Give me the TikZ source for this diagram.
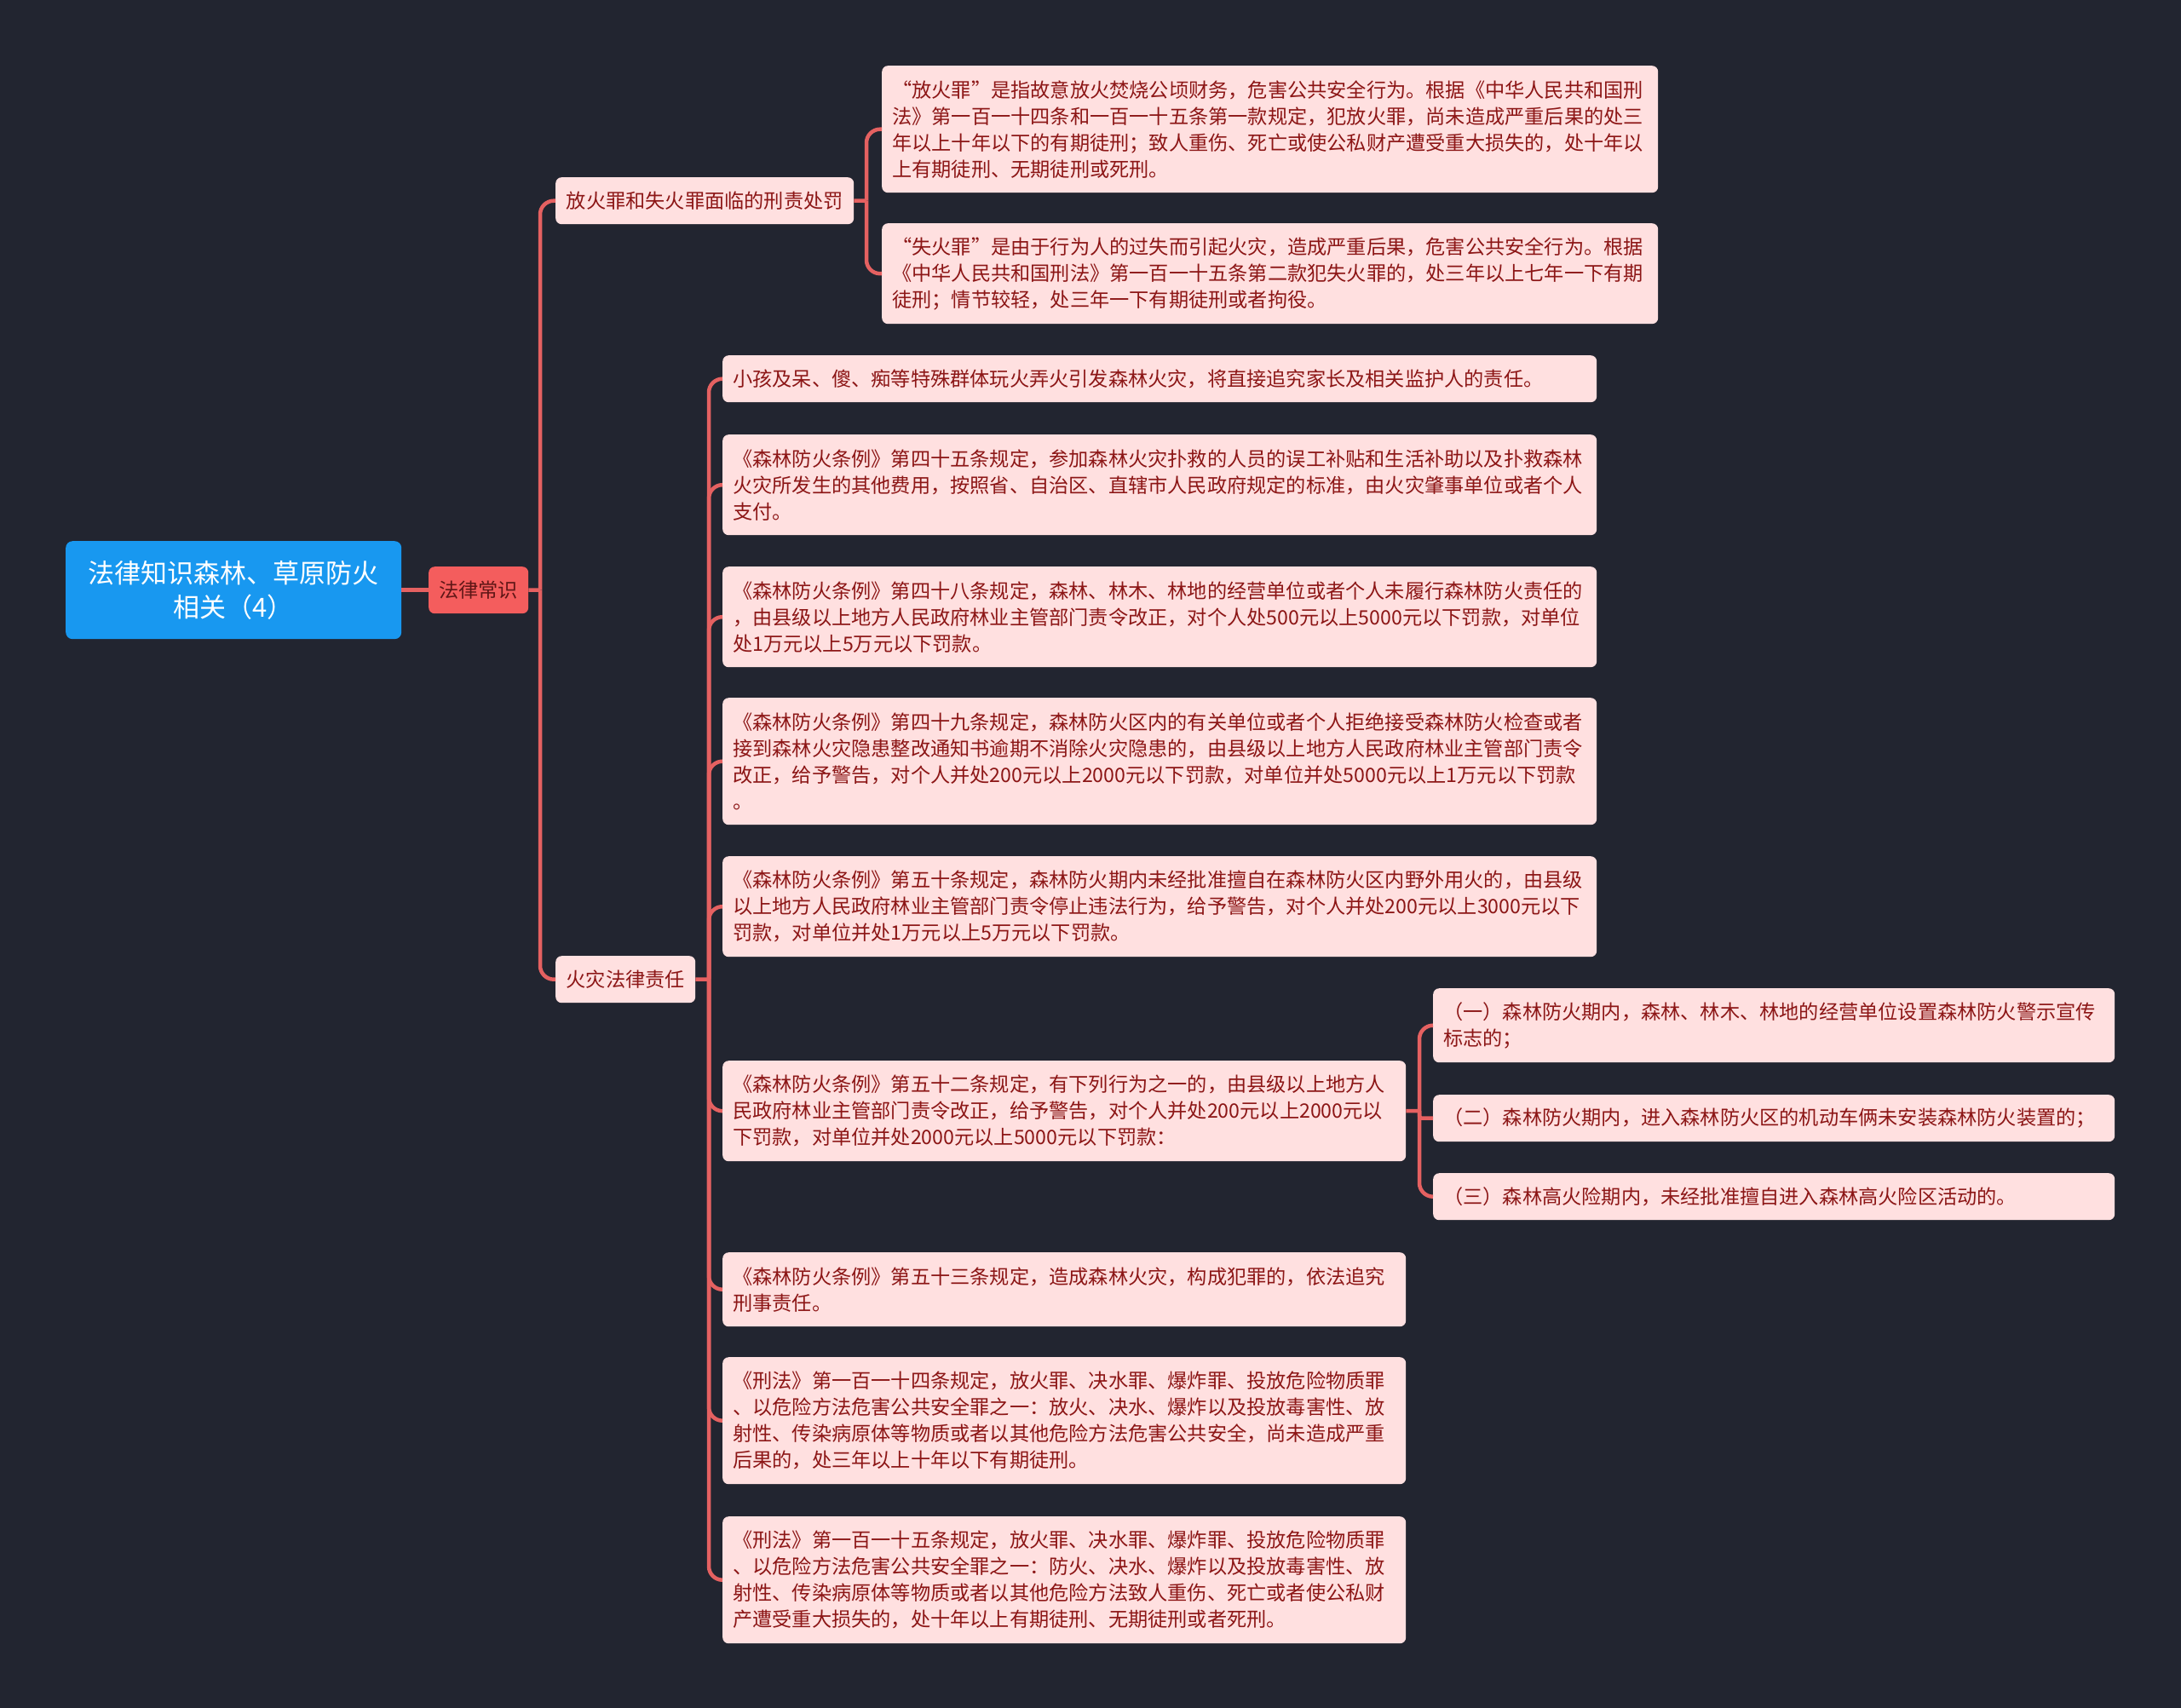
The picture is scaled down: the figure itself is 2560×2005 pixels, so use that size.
\documentclass[tikz,border=0pt]{standalone}
\usepackage{fontspec}
\setmainfont{Noto Sans CJK SC}
\definecolor{bgcol}{RGB}{34,37,48}
\definecolor{conncol}{RGB}{229,97,97}
\definecolor{rootcol}{RGB}{24,152,240}
\definecolor{lcfill}{RGB}{244,93,93}
\definecolor{lctext}{RGB}{95,22,22}
\definecolor{leaffill}{RGB}{255,224,224}
\definecolor{leaftext}{RGB}{140,22,22}
\begin{document}
\begin{tikzpicture}[x=1pt,y=-1pt,
  conn/.style={draw=conncol, line width=4.5pt},
  rc/.style={rounded corners=16pt},
  leaf/.style={rectangle, rounded corners=7pt, fill=leaffill, text=leaftext,
    font=\fontsize{23.2}{31}\selectfont, inner xsep=12pt, inner ysep=0pt,
    align=left, anchor=north west},
  midbox/.style={rectangle, rounded corners=7pt, fill=leaffill, text=leaftext,
    font=\fontsize{23.2}{28}\selectfont, inner sep=0pt, align=center, anchor=north west},
  rootbox/.style={rectangle, rounded corners=8pt, fill=rootcol, text=white,
    font=\fontsize{31}{40}\selectfont, inner sep=0pt, align=center, anchor=north west},
  lcbox/.style={rectangle, rounded corners=7pt, fill=lcfill, text=lctext,
    font=\fontsize{23.2}{28}\selectfont, inner sep=0pt, align=center, anchor=north west}]
\fill[bgcol] (0,0) rectangle (2560,2005);
\useasboundingbox (0,0) rectangle (2560,2005);

% root and first level
\node[rootbox, minimum width=394pt, minimum height=115pt] (root) at (77,635) {法律知识森林、草原防火\\相关（4）};
\node[lcbox, minimum width=117pt, minimum height=55pt] (lc) at (503,665) {法律常识};

% second level
\node[midbox, minimum width=350pt, minimum height=55pt] (fzz) at (652,208) {放火罪和失火罪面临的刑责处罚};
\node[midbox, minimum width=164pt, minimum height=55pt] (hzz) at (652,1122) {火灾法律责任};

% children of fzz
\node[leaf, text width=887pt, minimum height=149pt] (fz1) at (1035,77) {“放火罪”是指故意放火焚烧公顷财务，危害公共安全行为。根据《中华人民共和国刑\\法》第一百一十四条和一百一十五条第一款规定，犯放火罪，尚未造成严重后果的处三\\年以上十年以下的有期徒刑；致人重伤、死亡或使公私财产遭受重大损失的，处十年以\\上有期徒刑、无期徒刑或死刑。};
\node[leaf, text width=887pt, minimum height=118pt] (fz2) at (1035,262) {“失火罪”是由于行为人的过失而引起火灾，造成严重后果，危害公共安全行为。根据\\《中华人民共和国刑法》第一百一十五条第二款犯失火罪的，处三年以上七年一下有期\\徒刑；情节较轻，处三年一下有期徒刑或者拘役。};

% children of hzz
\node[leaf, text width=1002pt, minimum height=55pt] (hz1) at (848,417) {小孩及呆、傻、痴等特殊群体玩火弄火引发森林火灾，将直接追究家长及相关监护人的责任。};
\node[leaf, text width=1002pt, minimum height=118pt] (hz2) at (848,510) {《森林防火条例》第四十五条规定，参加森林火灾扑救的人员的误工补贴和生活补助以及扑救森林\\火灾所发生的其他费用，按照省、自治区、直辖市人民政府规定的标准，由火灾肇事单位或者个人\\支付。};
\node[leaf, text width=1002pt, minimum height=118pt] (hz3) at (848,665) {《森林防火条例》第四十八条规定，森林、林木、林地的经营单位或者个人未履行森林防火责任的\\，由县级以上地方人民政府林业主管部门责令改正，对个人处500元以上5000元以下罚款，对单位\\处1万元以上5万元以下罚款。};
\node[leaf, text width=1002pt, minimum height=149pt] (hz4) at (848,819) {《森林防火条例》第四十九条规定，森林防火区内的有关单位或者个人拒绝接受森林防火检查或者\\接到森林火灾隐患整改通知书逾期不消除火灾隐患的，由县级以上地方人民政府林业主管部门责令\\改正，给予警告，对个人并处200元以上2000元以下罚款，对单位并处5000元以上1万元以下罚款\\。};
\node[leaf, text width=1002pt, minimum height=118pt] (hz5) at (848,1005) {《森林防火条例》第五十条规定，森林防火期内未经批准擅自在森林防火区内野外用火的，由县级\\以上地方人民政府林业主管部门责令停止违法行为，给予警告，对个人并处200元以上3000元以下\\罚款，对单位并处1万元以上5万元以下罚款。};
\node[leaf, text width=778pt, minimum height=118pt] (hz6) at (848,1245) {《森林防火条例》第五十二条规定，有下列行为之一的，由县级以上地方人\\民政府林业主管部门责令改正，给予警告，对个人并处200元以上2000元以\\下罚款，对单位并处2000元以上5000元以下罚款：};
\node[leaf, text width=778pt, minimum height=87pt] (hz7) at (848,1470) {《森林防火条例》第五十三条规定，造成森林火灾，构成犯罪的，依法追究\\刑事责任。};
\node[leaf, text width=778pt, minimum height=149pt] (hz8) at (848,1593) {《刑法》第一百一十四条规定，放火罪、决水罪、爆炸罪、投放危险物质罪\\、以危险方法危害公共安全罪之一：放火、决水、爆炸以及投放毒害性、放\\射性、传染病原体等物质或者以其他危险方法危害公共安全，尚未造成严重\\后果的，处三年以上十年以下有期徒刑。};
\node[leaf, text width=778pt, minimum height=149pt] (hz9) at (848,1780) {《刑法》第一百一十五条规定，放火罪、决水罪、爆炸罪、投放危险物质罪\\、以危险方法危害公共安全罪之一：防火、决水、爆炸以及投放毒害性、放\\射性、传染病原体等物质或者以其他危险方法致人重伤、死亡或者使公私财\\产遭受重大损失的，处十年以上有期徒刑、无期徒刑或者死刑。};

% children of hz6
\node[leaf, text width=776pt, minimum height=87pt] (g1) at (1682,1160) {（一）森林防火期内，森林、林木、林地的经营单位设置森林防火警示宣传\\标志的；};
\node[leaf, text width=776pt, minimum height=55pt] (g2) at (1682,1285) {（二）森林防火期内，进入森林防火区的机动车俩未安装森林防火装置的；};
\node[leaf, text width=776pt, minimum height=55pt] (g3) at (1682,1377) {（三）森林高火险期内，未经批准擅自进入森林高火险区活动的。};

% junction coordinates
\coordinate (j0) at (634,692.5);
\coordinate (j1) at (1017,235.5);
\coordinate (j2) at (832,1149.5);
\coordinate (j3) at (1666,1304);

% connectors
\draw[conn] (root.east) -- (lc.west);
\draw[conn] (lc.east) -- (j0);
\draw[conn, rc] (j0) |- (fzz.west);
\draw[conn, rc] (j0) |- (hzz.west);

\draw[conn] (fzz.east) -- (j1);
\draw[conn, rc] (j1) |- (fz1.west);
\draw[conn, rc] (j1) |- (fz2.west);

\draw[conn] (hzz.east) -- (j2);
\foreach \n in {hz1,hz2,hz3,hz4,hz5,hz6,hz7,hz8,hz9}{
  \draw[conn, rc] (j2) |- (\n.west);
}

\draw[conn] (hz6.east) -- (j3);
\draw[conn, rc] (j3) |- (g1.west);
\draw[conn, rounded corners=3pt] (j3) |- (g2.west);
\draw[conn, rc] (j3) |- (g3.west);
\end{tikzpicture}
\end{document}
